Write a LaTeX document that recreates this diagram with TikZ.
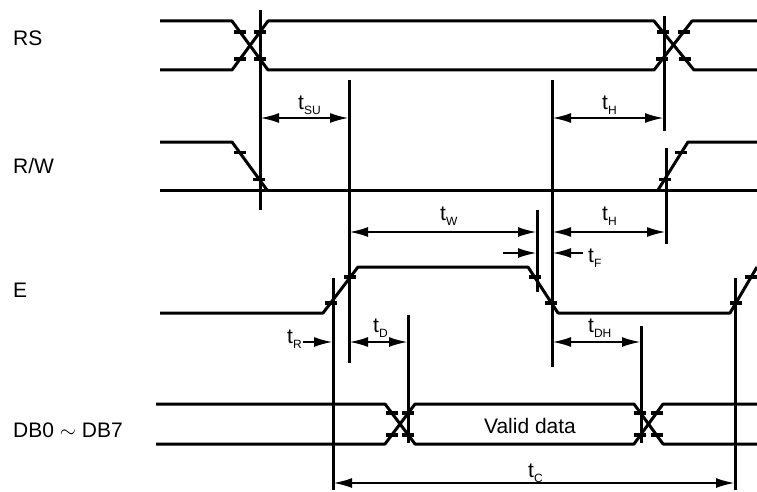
\documentclass[tikz,border=0pt]{standalone}
\usepackage{fontspec}
\setmainfont{Liberation Sans}
\usetikzlibrary{arrows.meta,decorations.markings}
\newcommand{\tsub}[1]{t\raisebox{-5pt}{\fontsize{12}{12}\selectfont #1}}
\tikzset{
	tickbar/.code={\pgftransformresetnontranslations \draw[line width=3.5pt] (-6pt,0pt) -- (6pt,0pt);},
	tk/.style={postaction={decorate,decoration={markings,
		mark=at position .22 with {\pgfkeys{/tikz/tickbar}},
		mark=at position .78 with {\pgfkeys{/tikz/tickbar}}}}}
}
\begin{document}
\begin{tikzpicture}[x=1pt,y=-1pt,
	sig/.style={line width=3pt,line join=round},
	guide/.style={line width=3pt},
	dim/.style={line width=2.4pt},
	head/.tip={Latex[length=19pt,width=10pt]},
	lbl/.style={inner sep=0pt,anchor=base west,font=\fontsize{21}{25}\selectfont}]
	\useasboundingbox (0,0) rectangle (757,492);
	% signal names
	\node [lbl] (rs) at (13,46) {RS};
	\node [lbl] (rw) at (13,173) {R/W};
	\node [lbl] (e) at (13,297) {E};
	\node [lbl] (db) at (13,437) {DB0 $\sim$ DB7};
	% guide lines
	\draw [guide] (260,10) -- (260,210);
	\draw [guide] (349,80) -- (349,363);
	\draw [guide] (552,80) -- (552,367);
	\draw [guide] (664,16) -- (664,131);
	\draw [guide] (666,148) -- (666,244);
	\draw [guide] (537,210) -- (537,292);
	\draw [guide] (333,278) -- (333,490);
	\draw [guide] (408,315) -- (408,443);
	\draw [guide] (641,326) -- (641,443);
	\draw [guide] (735,278) -- (735,490);
	% timing arrows
	\draw [dim,head-head] (260,118) -- (349,118);
	\draw [dim,head-head] (552,118) -- (664,118);
	\draw [dim,head-head] (349,232) -- (537,232);
	\draw [dim,head-head] (552,232) -- (666,232);
	\draw [dim,-head] (503,253) -- (537,253);
	\draw [dim,-head] (583,253) -- (552,253);
	\draw [dim,-head] (303,342) -- (333,342);
	\draw [dim,head-head] (349,342) -- (408,342);
	\draw [dim,head-head] (552,342) -- (641,342);
	\draw [dim,head-head] (333,483) -- (735,483);
	% timing labels
	\node [lbl] (tsu) at (298,110) {\tsub{SU}};
	\node [lbl] (th1) at (602,110) {\tsub{H}};
	\node [lbl] (tw) at (440,220) {\tsub{W}};
	\node [lbl] (th2) at (602,220) {\tsub{H}};
	\node [lbl] (tf) at (588,262) {\tsub{F}};
	\node [lbl] (tr) at (287,343) {\tsub{R}};
	\node [lbl] (td) at (373,332) {\tsub{D}};
	\node [lbl] (tdh) at (588,332) {\tsub{DH}};
	\node [lbl] (tc) at (528,477) {\tsub{C}};
	% signals
	\draw [sig] (160,21) -- (232,21) -- (268,70) -- (654,70) -- (692,21) -- (757,21);
	\draw [sig] (160,70) -- (232,70) -- (268,21) -- (654,21) -- (694,70) -- (757,70);
	\draw [sig] (160,142) -- (232,142) -- (267,190);
	\draw [sig] (160,190) -- (757,190);
	\draw [sig] (658,190) -- (688,142) -- (757,142);
	\draw [sig] (160,313) -- (323,313) -- (358,267) -- (528,267) -- (558,313) -- (730,313) -- (757,267);
	\draw [sig] (156,404) -- (385,404) -- (415,444) -- (634,444) -- (663,404) -- (757,404);
	\draw [sig] (156,444) -- (385,444) -- (415,404) -- (634,404) -- (663,444) -- (757,444);
	\node [lbl,anchor=base] (valid) at (530,433) {Valid data};
	% 10% / 90% marks on the edges
	\foreach \xa/\ya/\xb/\yb in {232/21/268/70, 232/70/268/21, 654/21/694/70, 654/70/692/21,
		232/142/267/190, 658/190/688/142,
		323/313/358/267, 528/267/558/313, 730/313/757/267,
		385/404/415/444, 385/444/415/404, 634/404/663/444, 634/444/663/404}
		\path [tk] (\xa,\ya) -- (\xb,\yb);
\end{tikzpicture}
\end{document}
